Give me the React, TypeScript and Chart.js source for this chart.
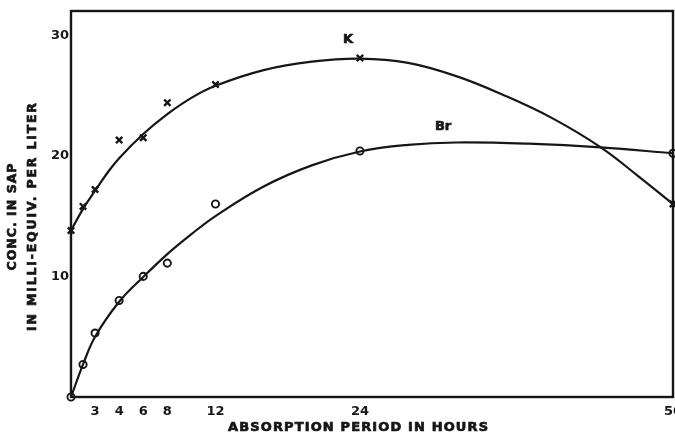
import { useEffect, useRef } from "react";
import { Chart, registerables } from "chart.js";

Chart.register(...registerables);

// ---- data ----
const hours = [0, 1, 2, 4, 6, 8, 12, 24, 50];
const kValues = [13.8, 15.8, 17.2, 21.3, 21.5, 24.4, 25.9, 28.1, 16.0];
const brValues = [0, 2.7, 5.3, 8.0, 10.0, 11.1, 16.0, 20.4, 20.2];

// hand-drawn fitted curves
const kCurveHours = [0, 1, 2, 3, 4, 6, 8, 10, 12, 16, 20, 24, 28, 32, 36, 40, 44, 47, 50];
const kCurveValues = [13.8, 15.6, 17.1, 18.55, 19.8, 21.8, 23.45, 24.8, 25.8, 27.1, 27.8, 28.05, 27.7, 26.6, 25.0, 23.1, 20.7, 18.4, 16.0];
const brCurveHours = [0, 1, 2, 4, 6, 8, 10, 12, 16, 20, 24, 28, 32, 38, 44, 50];
const brCurveValues = [0, 2.7, 5.0, 7.9, 9.95, 11.85, 13.5, 15.0, 17.45, 19.2, 20.35, 20.9, 21.1, 21.0, 20.7, 20.2];

const xTickValues = [2, 4, 6, 8, 12, 24, 50];
const xTickLabels = ["3", "4", "6", "8", "12", "24", "50"];
const yTickValues = [10, 20, 30];
const yTickLabels = ["10", "20", "30"];

const xTitle = "ABSORPTION PERIOD IN HOURS";
const yTitleLines = ["CONC. IN SAP", "IN MILLI-EQUIV. PER LITER"];
const seriesLabels = [
  { text: "K", x: 23.0, y: 29.6 },
  { text: "Br", x: 30.9, y: 22.4 },
];

const INK = "#161616";
const FONT = '"DejaVu Sans"';

function drawFitted(
  ctx: CanvasRenderingContext2D,
  text: string,
  cx: number,
  cy: number,
  width: number,
  size: number,
  rotate: boolean
) {
  ctx.save();
  ctx.font = `bold ${size}px ${FONT}`;
  (ctx as any).letterSpacing = "0px";
  const w = ctx.measureText(text).width;
  const spacing = (width - w) / Math.max(1, text.length - 1);
  (ctx as any).letterSpacing = `${spacing}px`;
  ctx.translate(cx, cy);
  if (rotate) ctx.rotate(-Math.PI / 2);
  ctx.textAlign = "left";
  ctx.textBaseline = "middle";
  ctx.fillStyle = INK;
  ctx.strokeStyle = INK;
  ctx.lineWidth = 0.7;
  ctx.fillText(text, -width / 2, 0);
  ctx.strokeText(text, -width / 2, 0);
  ctx.restore();
}

const decorPlugin = {
  id: "decor",
  afterDraw(chart: any) {
    const { ctx, chartArea: a, scales } = chart;
    ctx.save();
    ctx.strokeStyle = INK;
    ctx.lineWidth = 2.4;
    ctx.strokeRect(a.left, a.top, a.right - a.left, a.bottom - a.top);
    ctx.restore();

    drawFitted(ctx, xTitle, 358, 428, 260, 13, false);
    drawFitted(ctx, yTitleLines[0], 13, 217, 107, 12.5, true);
    drawFitted(ctx, yTitleLines[1], 33, 217, 228, 12.5, true);

    ctx.save();
    ctx.font = `bold 13px ${FONT}`;
    ctx.fillStyle = INK;
    ctx.strokeStyle = INK;
    ctx.lineWidth = 0.7;
    ctx.textAlign = "center";
    ctx.textBaseline = "middle";
    for (const l of seriesLabels) {
      const px = scales.x.getPixelForValue(l.x);
      const py = scales.y.getPixelForValue(l.y);
      ctx.fillText(l.text, px, py);
      ctx.strokeText(l.text, px, py);
    }
    ctx.restore();
  },
};

export default function App() {
  const ref = useRef<HTMLCanvasElement | null>(null);

  useEffect(() => {
    document.body.style.margin = "0";
    const canvas = ref.current;
    if (!canvas) return;

    const toPts = (xs: number[], ys: number[]) => xs.map((x, i) => ({ x, y: ys[i] }));

    const curveStyle = {
      showLine: true,
      pointRadius: 0,
      borderColor: INK,
      borderWidth: 2.2,
      tension: 0.4,
      cubicInterpolationMode: "default",
    };

    const chart = new Chart(canvas, {
      type: "scatter",
      data: {
        datasets: [
          { label: "K curve", data: toPts(kCurveHours, kCurveValues), ...curveStyle } as any,
          { label: "Br curve", data: toPts(brCurveHours, brCurveValues), ...curveStyle } as any,
          {
            label: "K",
            data: toPts(hours, kValues),
            pointStyle: "crossRot",
            pointRadius: 4.5,
            borderColor: INK,
            borderWidth: 2.4,
            clip: false,
          } as any,
          {
            label: "Br",
            data: toPts(hours, brValues),
            pointStyle: "circle",
            pointRadius: 3.6,
            backgroundColor: "#ffffff",
            borderColor: INK,
            borderWidth: 1.9,
            clip: false,
          } as any,
        ],
      },
      options: {
        animation: false,
        responsive: true,
        maintainAspectRatio: false,
        layout: {
          autoPadding: false,
          padding: { left: 0, top: 11, right: 2, bottom: 0 },
        } as any,
        plugins: {
          legend: { display: false },
          tooltip: { enabled: false },
        },
        scales: {
          x: {
            type: "linear",
            min: 0,
            max: 50,
            grid: { display: false, drawTicks: false },
            border: { display: false },
            afterBuildTicks: (s: any) => {
              s.ticks = xTickValues.map((v) => ({ value: v }));
            },
            afterFit: (s: any) => {
              s.height = 42;
              s.paddingLeft = 0;
              s.paddingRight = 0;
            },
            ticks: {
              autoSkip: false,
              maxRotation: 0,
              padding: 7,
              color: INK,
              font: { family: "DejaVu Sans", size: 13, weight: "bold" },
              callback: (v: any) => {
                const i = xTickValues.indexOf(Number(v));
                return i >= 0 ? xTickLabels[i] : "";
              },
            },
          },
          y: {
            type: "linear",
            min: 0,
            max: 32,
            grid: { display: false, drawTicks: false },
            border: { display: false },
            afterBuildTicks: (s: any) => {
              s.ticks = yTickValues.map((v) => ({ value: v }));
            },
            afterFit: (s: any) => {
              s.width = 71;
              s.paddingTop = 0;
              s.paddingBottom = 0;
            },
            ticks: {
              autoSkip: false,
              padding: 2,
              color: INK,
              font: { family: "DejaVu Sans", size: 13, weight: "bold" },
              callback: (v: any) => {
                const i = yTickValues.indexOf(Number(v));
                return i >= 0 ? yTickLabels[i] : "";
              },
            },
          },
        },
      },
      plugins: [decorPlugin],
    });

    return () => chart.destroy();
  }, []);

  return (
    <div style={{ position: "fixed", left: 0, top: 0, width: 675, height: 439, background: "#fff", overflow: "hidden" }}>
      <canvas ref={ref} />
    </div>
  );
}
